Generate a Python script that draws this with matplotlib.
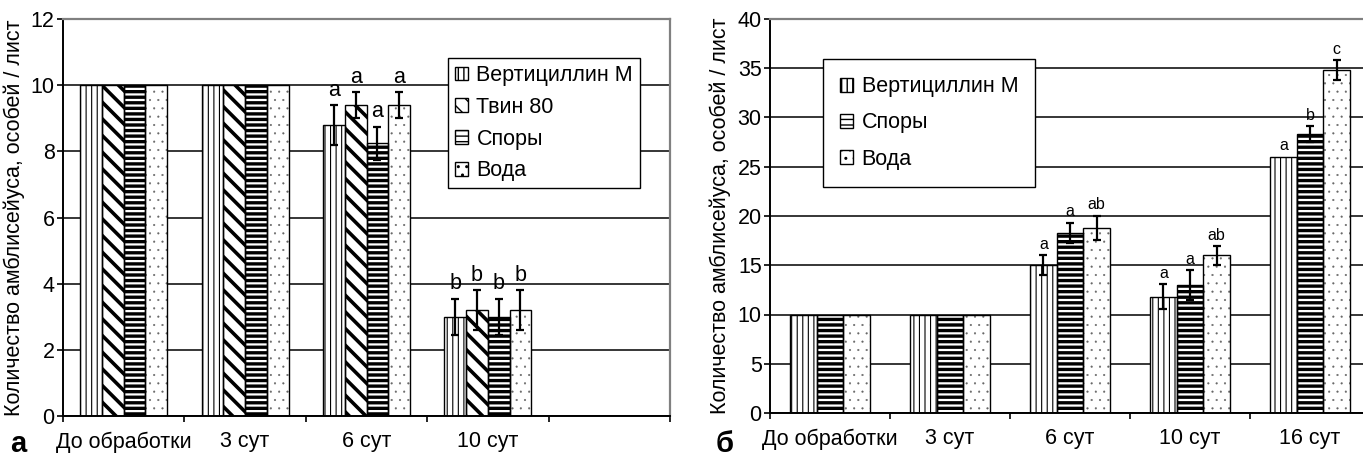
import matplotlib
matplotlib.use("Agg")
import matplotlib.pyplot as plt
import matplotlib.patches as mpatches
import numpy as np

plt.rcParams['font.family'] = ['Liberation Sans', 'DejaVu Sans']

# Панель а
cats_a = ['До обработки', '3 сут', '6 сут', '10 сут', '']
series_a = ['Вертициллин М', 'Твин 80', 'Споры', 'Вода']
vals_a = [
    [10, 10, 8.8, 3.0, 0],
    [10, 10, 9.4, 3.2, 0],
    [10, 10, 8.25, 3.0, 0],
    [10, 10, 9.4, 3.2, 0],
]
err_a = [
    [0, 0, 0.6, 0.55, 0],
    [0, 0, 0.4, 0.6, 0],
    [0, 0, 0.5, 0.55, 0],
    [0, 0, 0.4, 0.6, 0],
]
let_a = [
    ['', '', 'a', 'b', ''],
    ['', '', 'a', 'b', ''],
    ['', '', 'a', 'b', ''],
    ['', '', 'a', 'b', ''],
]

# Панель б
cats_b = ['До обработки', '3 сут', '6 сут', '10 сут', '16 сут']
series_b = ['Вертициллин М', 'Споры', 'Вода']
vals_b = [
    [10, 10, 15.0, 11.8, 26.0],
    [10, 10, 18.3, 13.0, 28.3],
    [10, 10, 18.8, 16.0, 34.8],
]
err_b = [
    [0, 0, 1.0, 1.25, 0],
    [0, 0, 1.0, 1.5, 0.8],
    [0, 0, 1.25, 0.95, 1.0],
]
let_b = [
    ['', '', 'a', 'a', 'a'],
    ['', '', 'a', 'a', 'b'],
    ['', '', 'ab', 'ab', 'c'],
]

# стиль штриховки для каждого варианта
hatch_style = {
    'Вертициллин М': ('|||', 0.8, 'black'),
    'Твин 80': ('\\\\', 2.6, 'black'),
    'Споры': ('---', 2.4, 'black'),
    'Вода': ('..', 0.3, '#666666'),
}

FS = 15.5


def draw_panel(ax, cats, series, vals, errs, lets, ymax, ystep, wbar, letsize, letoff):
    x = np.arange(len(cats))
    n = len(series)
    ax.set_axisbelow(True)
    ax.yaxis.grid(True, color='black', linewidth=1.1)
    handles = []
    for i, name in enumerate(series):
        hatch, hlw, hcol = hatch_style[name]
        xs = x + (i - (n - 1) / 2) * wbar
        with plt.rc_context({'hatch.linewidth': hlw}):
            bars = ax.bar(xs, vals[i], wbar, color='white', edgecolor=hcol,
                          hatch=hatch, linewidth=0, zorder=2)
            for b in bars:
                if hasattr(b, 'set_hatch_linewidth'):
                    b.set_hatch_linewidth(hlw)
        ax.bar(xs, vals[i], wbar, color='none', edgecolor='black',
               linewidth=1.0, zorder=3)
        e = np.array(errs[i], dtype=float)
        m = e > 0
        ax.errorbar(xs[m], np.array(vals[i])[m], yerr=e[m], fmt='none',
                    ecolor='black', elinewidth=1.6, capsize=3, capthick=1.6,
                    zorder=4)
        for xx, v, ee, t in zip(xs, vals[i], e, lets[i]):
            if t:
                ax.annotate(t, (xx, v + ee), xytext=(0, letoff),
                            textcoords='offset points', ha='center',
                            va='bottom', fontsize=letsize, zorder=5)
        with plt.rc_context({'hatch.linewidth': hlw}):
            h = mpatches.Patch(facecolor='white', edgecolor='black',
                               hatch=hatch, linewidth=1.0, label=name)
            if hasattr(h, 'set_hatch_linewidth'):
                h.set_hatch_linewidth(hlw)
        handles.append(h)

    ax.set_xlim(-0.5, len(cats) - 0.5)
    ax.set_ylim(0, ymax)
    ax.set_yticks(np.arange(0, ymax + 0.1, ystep))
    ax.set_xticks(np.arange(len(cats) + 1) - 0.5)
    ax.set_xticklabels([])
    ax.set_xticks(x, cats, minor=True)
    ax.tick_params(axis='x', which='major', direction='out', length=4,
                   width=1.2)
    ax.tick_params(axis='x', which='minor', length=0, pad=11, labelsize=FS)
    ax.tick_params(axis='y', direction='out', length=4, width=1.2, pad=2,
                   labelsize=FS)
    for s in ['left', 'bottom']:
        ax.spines[s].set_color('black')
        ax.spines[s].set_linewidth(1.4)
    for s in ['top', 'right']:
        ax.spines[s].set_color('#808080')
        ax.spines[s].set_linewidth(1.6)
    ax.set_ylabel('Количество амблисейуса, особей / лист', fontsize=FS)
    return handles


fig = plt.figure(figsize=(13.63, 4.57), dpi=100)

ax1 = fig.add_axes([63 / 1363, 1 - 416 / 457, 607 / 1363, 397 / 457])
h1 = draw_panel(ax1, cats_a, series_a, vals_a, err_a, let_a, 12, 2, 0.179, FS, 3)
ax1.yaxis.set_label_coords(-0.063, 0.5)
leg1 = ax1.legend(handles=h1, loc='upper left', bbox_to_anchor=(0.634, 0.902),
                  fontsize=FS, frameon=True, fancybox=False, edgecolor='black',
                  framealpha=1, handlelength=0.6, handleheight=0.6,
                  handletextpad=0.4, labelspacing=0.5, borderpad=0.33,
                  borderaxespad=0)
leg1.get_frame().set_linewidth(1.0)

ax2 = fig.add_axes([770 / 1363, 1 - 413 / 457, 600 / 1363, 394 / 457])
h2 = draw_panel(ax2, cats_b, series_b, vals_b, err_b, let_b, 40, 5, 0.222, 11.5, 2.5)
ax2.yaxis.set_label_coords(-0.065, 0.5)
leg2 = ax2.legend(handles=h2, loc='upper left', bbox_to_anchor=(0.088, 0.898),
                  fontsize=FS, frameon=True, fancybox=False, edgecolor='black',
                  framealpha=1, handlelength=0.6, handleheight=0.6,
                  handletextpad=0.4, labelspacing=0.7, borderpad=0.8,
                  borderaxespad=0)
leg2.get_frame().set_linewidth(1.0)

fig.text(10 / 1363, 1 - 444 / 457, 'а', fontsize=21, fontweight='bold',
         va='center', ha='left')
fig.text(716 / 1363, 1 - 444 / 457, 'б', fontsize=21, fontweight='bold',
         va='center', ha='left')

fig.savefig('out.png', dpi=100)
